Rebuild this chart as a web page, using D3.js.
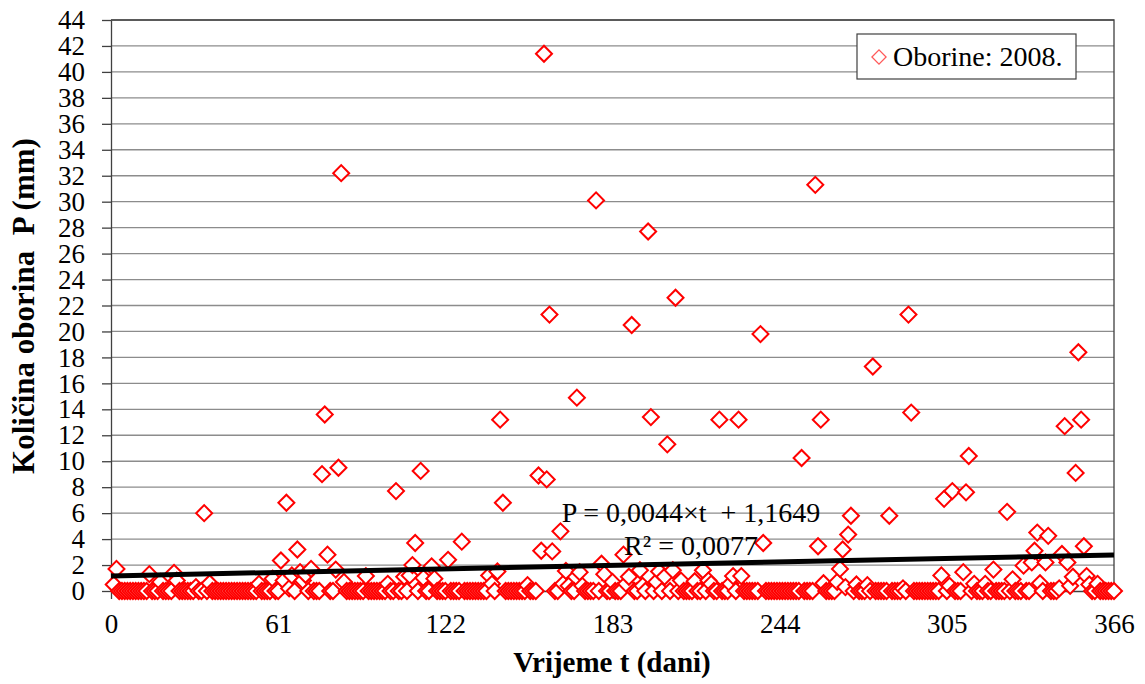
<!DOCTYPE html>
<html>
<head>
<meta charset="utf-8">
<script src="https://cdn.jsdelivr.net/npm/d3@7"></script>
<style>
  html, body { margin: 0; padding: 0; background: #fff; }
  svg { display: block; font-family: "Liberation Serif", "Times New Roman", serif; }
</style>
</head>
<body>
<svg id="chart" width="1145" height="684"></svg>
<script>
// ---- data: daily precipitation 2008 (day 1..366), mm ----
const precip2008 = [
  0.5, 1.7, 0, 0, 0, 0, 0, 0, 0, 0,
  0, 0, 0, 1.3, 0, 0, 0, 0.7, 0, 0,
  0, 0, 1.4, 0.8, 0, 0, 0, 0, 0, 0,
  0.3, 0, 0, 6.0, 0, 0.6, 0, 0, 0, 0,
  0, 0, 0, 0, 0, 0, 0, 0, 0, 0,
  0, 0, 0, 0.55, 0, 0, 0, 0, 0.95, 0,
  0, 2.35, 0.8, 6.8, 0.2, 1.2, 0, 3.2, 1.45, 0.8,
  1.25, 0, 1.7, 0, 0, 0, 9.0, 13.6, 2.8, 0,
  0, 1.65, 9.5, 32.2, 0.7, 0, 0, 0, 0, 0,
  0, 0, 1.15, 0, 0, 0, 0, 0, 0, 0,
  0.55, 0, 0, 7.7, 0, 0, 1.1, 0, 1.2, 2.0,
  3.7, 0, 9.25, 1.0, 0, 0, 1.9, 0.95, 0, 0,
  0, 0, 2.4, 0, 0, 0, 0, 3.8, 0, 0,
  0, 0, 0, 0, 0, 0, 0, 1.2, 0.55, 0,
  1.5, 13.2, 6.8, 0, 0, 0, 0, 0, 0, 0,
  0, 0.45, 0, 0, 0, 8.9, 3.1, 41.4, 8.6, 21.3,
  3.05, 0, 0, 4.6, 0.55, 1.55, 0.4, 0, 0, 14.9,
  1.45, 0.4, 0, 0, 0, 0, 30.1, 0, 2.1, 1.3,
  0, 0, 0.7, 0, 0, 0, 2.8, 0.55, 1.1, 20.5,
  0, 0, 1.6, 0.4, 0, 27.7, 13.4, 0, 0.7, 1.5,
  0, 1.1, 11.3, 0, 1.6, 22.6, 0, 0.8, 0, 0,
  0, 0, 0.75, 0, 0, 1.6, 0, 0.8, 0.55, 0,
  0, 13.2, 0, 0, 0, 0.55, 1.15, 0, 13.2, 1.15,
  0, 0, 0, 0, 0, 0, 19.8, 3.7, 0, 0,
  0, 0, 0, 0, 0, 0, 0, 0, 0, 0,
  0, 10.25, 0, 0, 0, 0, 31.3, 3.45, 13.2, 0.6,
  0, 0, 0, 0, 0.7, 1.7, 3.2, 0.3, 4.35, 5.8,
  0, 0.5, 0, 0, 0, 0.45, 0, 17.3, 0, 0,
  0, 0, 0, 5.8, 0, 0, 0, 0, 0.2, 0,
  21.3, 13.75, 0, 0, 0, 0, 0, 0, 0, 0,
  0, 0, 1.2, 7.1, 0, 0.4, 7.7, 0, 0, 0,
  1.45, 7.6, 10.4, 0, 0.55, 0, 0, 0, 0.55, 0,
  0, 1.65, 0, 0, 0, 0, 6.1, 0, 0.9, 0,
  0, 0, 1.95, 0, 0, 2.2, 3.1, 4.5, 0.6, 0,
  2.2, 4.25, 0, 0, 0, 0.2, 2.85, 12.7, 2.2, 0.4,
  1.1, 9.1, 18.4, 13.2, 3.45, 1.15, 0.5, 0, 0, 0.55,
  0, 0, 0, 0, 0, 0
];
const xTicks = [0, 61, 122, 183, 244, 305, 366];
const yTicks = [0, 2, 4, 6, 8, 10, 12, 14, 16, 18, 20, 22, 24, 26, 28, 30, 32, 34, 36, 38, 40, 42, 44];
const trendSlope = 0.0044;
const trendIntercept = 1.1649;
const trendLabel = ["P = 0,0044×t  + 1,1649", "R² = 0,0077"];
const seriesName = "Oborine: 2008.";
const xTitle = "Vrijeme t (dani)";
const yTitle = "Količina oborina  P (mm)";

// ---- layout ----
const svg = d3.select("#chart");
const L = 111, R = 1114, T = 20, B = 591;
const x = d3.scaleLinear().domain([0, 366]).range([L, R]);
const y = d3.scaleLinear().domain([0, 44]).range([B, T]);

svg.append("rect").attr("width", 1145).attr("height", 684).attr("fill", "#fff");

// gridlines
svg.append("g").selectAll("line").data(yTicks.filter(v => v > 0)).join("line")
  .attr("x1", L).attr("x2", R)
  .attr("y1", d => y(d)).attr("y2", d => y(d))
  .attr("stroke", "#8c8c8c").attr("stroke-width", 1.3);

// plot border (top/right)
svg.append("path")
  .attr("d", `M${L},${T}H${R}V${B}`)
  .attr("fill", "none").attr("stroke", "#404040").attr("stroke-width", 1.3);

// axes
const yAxis = svg.append("g").attr("transform", `translate(${L},0)`)
  .call(d3.axisLeft(y).tickValues(yTicks).tickSize(9).tickSizeOuter(0).tickPadding(17));
const xAxis = svg.append("g").attr("transform", `translate(0,${B})`)
  .call(d3.axisBottom(x).tickValues(xTicks).tickSize(8).tickSizeOuter(0).tickPadding(15));
[yAxis, xAxis].forEach(g => {
  g.attr("font-family", "'Liberation Serif', 'Times New Roman', serif");
  g.selectAll("path, line").attr("stroke", "#404040").attr("stroke-width", 1.3);
  g.selectAll("text").attr("font-family", "'Liberation Serif', 'Times New Roman', serif")
    .attr("font-size", 27).attr("fill", "#000");
});

// markers
const diamond = d3.symbol().type(d3.symbolSquare).size(128);
svg.append("g").selectAll("path").data(precip2008).join("path")
  .attr("d", diamond)
  .attr("transform", (d, i) => `translate(${x(i + 1)},${y(d)}) rotate(45)`)
  .attr("fill", "#fff").attr("stroke", "#ff0000").attr("stroke-width", 2);

// trend line
svg.append("line")
  .attr("x1", x(0)).attr("y1", y(trendIntercept))
  .attr("x2", x(366)).attr("y2", y(trendIntercept + trendSlope * 366))
  .attr("stroke", "#000").attr("stroke-width", 5);

// trend label
svg.append("text").attr("x", 691).attr("y", 522).attr("text-anchor", "middle")
  .attr("font-size", 28).style("white-space", "pre").text(trendLabel[0]);
svg.append("text").attr("x", 691).attr("y", 555).attr("text-anchor", "middle")
  .attr("font-size", 28).text(trendLabel[1]);

// legend
const lg = svg.append("g");
lg.append("rect").attr("x", 857).attr("y", 34).attr("width", 219).attr("height", 45)
  .attr("fill", "#fff").attr("stroke", "#404040").attr("stroke-width", 1.2);
lg.append("path").attr("d", d3.symbol().type(d3.symbolSquare).size(100))
  .attr("transform", "translate(879,57) rotate(45)")
  .attr("fill", "#fff").attr("stroke", "#ff5a5a").attr("stroke-width", 1.3);
lg.append("text").attr("x", 893).attr("y", 66).attr("font-size", 28).text(seriesName);

// axis titles
svg.append("text").attr("x", 612).attr("y", 672).attr("text-anchor", "middle")
  .attr("font-size", 29).attr("font-weight", "bold").text(xTitle);
svg.append("text").attr("transform", "translate(34,306) rotate(-90)")
  .attr("text-anchor", "middle").attr("font-size", 31).attr("font-weight", "bold")
  .style("white-space", "pre").text(yTitle);
</script>
</body>
</html>
